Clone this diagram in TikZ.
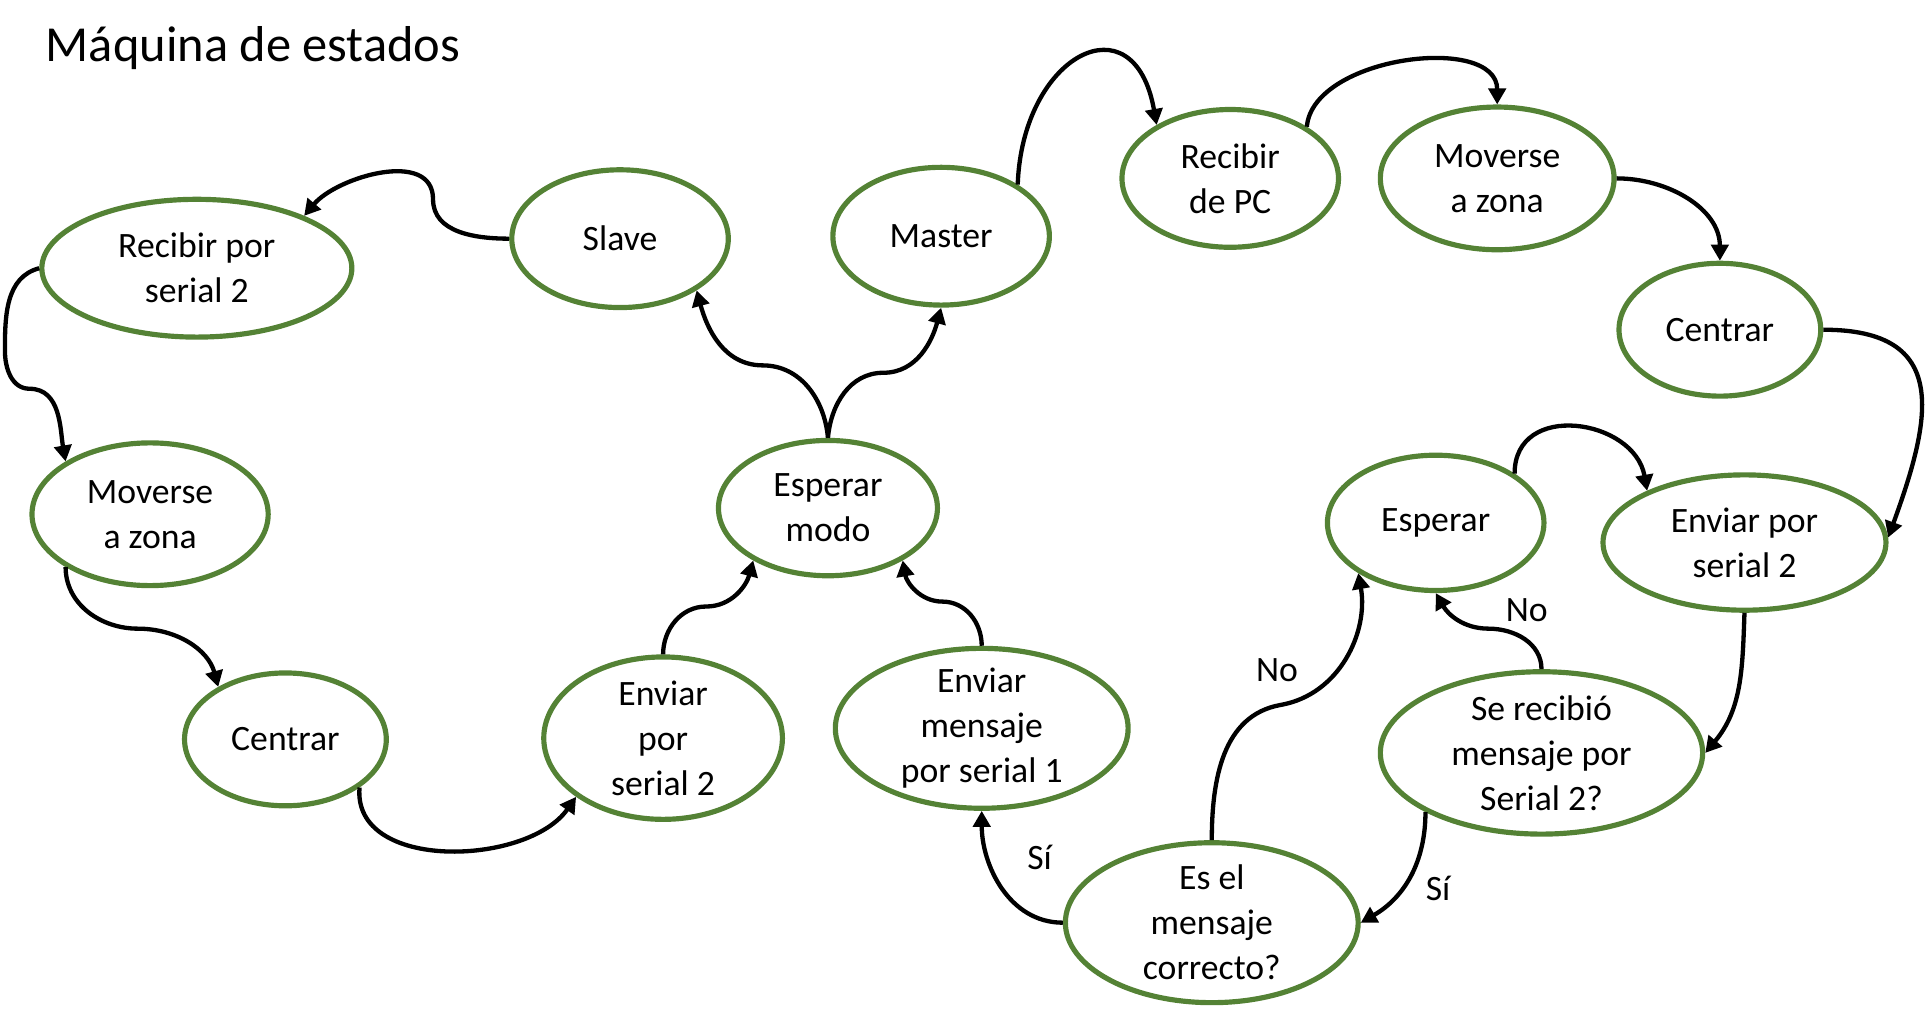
\documentclass[tikz,border=0pt]{standalone}
\usepackage{fontspec}
\setmainfont{Carlito}
\usepackage{tikz}
\usetikzlibrary{arrows.meta,shapes.geometric}
\definecolor{verde}{RGB}{84,130,53}

\begin{document}
\begin{tikzpicture}[x=1pt, y=1pt,
      estado/.style 2 args={ellipse, draw=verde, line width=4.2pt, align=center,
                  font=\fontsize{29pt}{36.6pt}\selectfont, inner xsep=0pt, inner ysep=-30pt,
                  minimum width=#1, minimum height=#2},
      etq/.style={font=\fontsize{29pt}{36.6pt}\selectfont, inner sep=0pt},
      ar/.style={-{Triangle[length=13pt, width=14pt]}, line width=3.5pt}
    ]
    \useasboundingbox (0,0) rectangle (1568,-823);
    \node[anchor=base west, inner sep=0pt, font=\fontsize{41pt}{47pt}\selectfont] (titulo) at (37,-50) {Máquina de estados};
    \node[estado={252}{112}] (rps)    at (160,-218)  {Recibir por\\serial 2};
    \node[estado={176}{112}] (slave)  at (504,-194)  {Slave};
    \node[estado={176}{112}] (master) at (765,-192)  {Master};
    \node[estado={176}{112}] (rpc)    at (1000,-145) {Recibir\\de PC};
    \node[estado={190}{116}] (mz2)    at (1217,-145) {Moverse\\a zona};
    \node[estado={164}{108}] (cen2)   at (1398,-268) {Centrar};
    \node[estado={176}{110}] (esp)    at (1167,-425) {Esperar};
    \node[estado={230}{110}] (eps2)   at (1418,-441) {Enviar por\\serial 2};
    \node[estado={262}{132}] (srm)    at (1253,-612) {Se recibió\\mensaje por\\Serial 2?};
    \node[estado={238}{130}] (emc)    at (985,-750)  {Es el\\mensaje\\correcto?};
    \node[estado={238}{130}] (ems1)   at (798,-592)  {Enviar\\mensaje\\por serial 1};
    \node[estado={178}{110}] (em)     at (673,-413)  {Esperar\\modo};
    \node[estado={194}{132}] (eps1)   at (539,-600)  {Enviar\\por\\serial 2};
    \node[estado={164}{108}] (cen1)   at (232,-601)  {Centrar};
    \node[estado={192}{116}] (mz1)    at (122,-418)  {Moverse\\a zona};
    \node[etq] (si1) at (845,-697)  {Sí};
    \node[etq] (no1) at (1038,-545) {No};
    \node[etq] (no2) at (1241,-496) {No};
    \node[etq] (si2) at (1169,-722) {Sí};
    \draw[ar] (slave.west) to[out=180,in=-90] (352,-162) to[out=90,in=50] (rps.26);
    \draw[ar] (rps.west) to[out=195,in=90] (4,-285) to[out=-90,in=180] (24,-316) to[out=0,in=100] (mz1.148);
    \draw[ar] (mz1.212) to[out=-90,in=180] (112,-511) to[out=0,in=105] (cen1.142);
    \draw[ar] (cen1.-33) to[out=-95,in=-125] (eps1.214);
    \draw[ar] (eps1.north) to[out=90,in=180] (574,-493) to[out=0,in=-105] (em.215);
    \draw[ar] (ems1.north) to[out=90,in=0] (766,-489) to[out=180,in=-80] (em.-35);
    \draw[ar] (em.north) to[out=95,in=0] (620,-297) to[out=180,in=-75] (slave.-34);
    \draw[ar] (em.north) to[out=85,in=180] (718,-303) to[out=0,in=-105] (master.south);
    \draw[ar] (master.34) to[out=88,in=100,looseness=2.2] (rpc.144);
    \draw[ar] (rpc.34) to[out=85,in=90,looseness=0.95] (mz2.north);
    \draw[ar] (mz2.east) to[out=0,in=90] (cen2.north);
    \draw[ar] (cen2.east) to[out=0,in=70,looseness=1.5] (eps2.2);
    \draw[ar] (esp.32) to[out=90,in=100,looseness=1.4] (eps2.152);
    \draw[ar] (eps2.south) to[out=-92,in=50] (srm.east);
    \draw[ar] (srm.207) to[out=-90,in=30] (emc.east);
    \draw[ar] (srm.north) to[out=90,in=0] (1210,-511) to[out=180,in=-60] (esp.south);
    \draw[ar] (emc.north) to[out=90,in=190] (1041,-573) to[out=10,in=-80] (esp.213);
    \draw[ar] (emc.west) to[out=180,in=-90] (ems1.south);
  \end{tikzpicture}
\end{document}
